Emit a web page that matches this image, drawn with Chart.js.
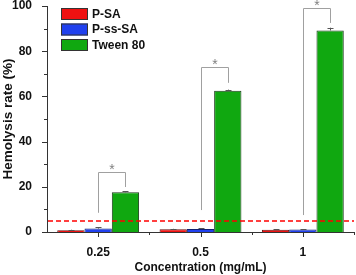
<!DOCTYPE html>
<html>
<head>
<meta charset="utf-8">
<script src="https://cdn.jsdelivr.net/npm/chart.js@4"></script>
<style>
  html, body { margin: 0; padding: 0; background: #fff; }
  #wrap { width: 356px; height: 275px; }
</style>
</head>
<body>
<div id="wrap"><canvas id="myChart" width="356" height="275"></canvas></div>
<script>
// data
var concentrations = ['0.25', '0.5', '1'];
var pSA = [0.8, 1.2, 1.0];
var pSAErr = [0.2, 0.2, 0.2];
var pssSA = [1.5, 1.3, 1.1];
var pssSAErr = [0.7, 0.3, 0.2];
var tween80 = [17.6, 62.5, 89.2];
var tween80Err = [0.4, 0.5, 1.2];
var threshold = 5;
// significance brackets: [left bottom, top, right bottom] in %
var brackets = [[8.5, 26.7, 19.9], [9.7, 73.1, 66.0], [7.5, 99.1, 92.5]];
var yTicks = [0, 20, 40, 60, 80, 100];

var font = 'Arial, "Liberation Sans", sans-serif';

// draws error bars, dashed line, brackets, ticks and legend
var extras = {
  id: 'extras',
  afterDatasetsDraw: function(chart) {
    var ctx = chart.ctx;
    var y = chart.scales.y;
    var x = chart.scales.x;
    var area = chart.chartArea;
    var errs = [pSAErr, pssSAErr, tween80Err];

    // error bars
    ctx.save();
    ctx.strokeStyle = '#555';
    ctx.lineWidth = 1;
    chart.data.datasets.forEach(function(ds, i) {
      var meta = chart.getDatasetMeta(i);
      meta.data.forEach(function(bar, j) {
        var top = y.getPixelForValue(ds.data[j] + errs[i][j]);
        var bx = Math.round(bar.x) + 0.5;
        ctx.beginPath();
        ctx.moveTo(bx, bar.y);
        ctx.lineTo(bx, top);
        ctx.moveTo(bx - 3, Math.round(top) + 0.5);
        ctx.lineTo(bx + 3, Math.round(top) + 0.5);
        ctx.stroke();
      });
    });
    ctx.restore();

    // dashed threshold line
    ctx.save();
    ctx.strokeStyle = 'rgb(255, 0, 0)';
    ctx.lineWidth = 1.5;
    ctx.setLineDash([5, 3]);
    var ty = Math.round(y.getPixelForValue(threshold));
    ctx.beginPath();
    ctx.moveTo(area.left + 1, ty);
    ctx.lineTo(area.right, ty);
    ctx.stroke();
    ctx.restore();

    // significance brackets
    ctx.save();
    ctx.strokeStyle = '#a0a0a0';
    ctx.fillStyle = '#808080';
    ctx.lineWidth = 1;
    ctx.font = '14px ' + font;
    ctx.textAlign = 'center';
    ctx.textBaseline = 'middle';
    var blue = chart.getDatasetMeta(1).data;
    var green = chart.getDatasetMeta(2).data;
    brackets.forEach(function(b, j) {
      var x1 = Math.round(blue[j].x) + 0.5;
      var x2 = Math.round(green[j].x) + 0.5;
      var yt = Math.round(y.getPixelForValue(b[1])) + 0.5;
      ctx.beginPath();
      ctx.moveTo(x1, y.getPixelForValue(b[0]));
      ctx.lineTo(x1, yt);
      ctx.lineTo(x2, yt);
      ctx.lineTo(x2, y.getPixelForValue(b[2]));
      ctx.stroke();
      ctx.fillText('*', (x1 + x2) / 2, yt - 2);
    });
    ctx.restore();

    // axis tick marks (major + minor)
    ctx.save();
    ctx.strokeStyle = '#333';
    ctx.lineWidth = 1;
    for (var v = 0; v <= 100; v += 10) {
      var py = Math.round(y.getPixelForValue(v)) + 0.5;
      var len = (v % 20 === 0) ? 5 : 3;
      ctx.beginPath();
      ctx.moveTo(area.left, py);
      ctx.lineTo(area.left - len, py);
      ctx.stroke();
    }
    var bottom = Math.round(area.bottom);
    for (var k = 0; k < concentrations.length; k++) {
      var cx = Math.round(x.getPixelForValue(k)) + 0.5;
      ctx.beginPath();
      ctx.moveTo(cx, bottom);
      ctx.lineTo(cx, bottom + 5);
      ctx.stroke();
      var ex = Math.round(x.getPixelForValue(k + 0.5)) + 0.5;
      ctx.beginPath();
      ctx.moveTo(ex, bottom);
      ctx.lineTo(ex, bottom + 3);
      ctx.stroke();
    }
    ctx.restore();

    // legend in upper left
    ctx.save();
    ctx.font = 'bold 12px ' + font;
    ctx.textBaseline = 'middle';
    ctx.textAlign = 'left';
    chart.data.datasets.forEach(function(ds, i) {
      var ly = 8 + i * 15.5;
      ctx.fillStyle = ds.backgroundColor;
      ctx.fillRect(61, ly, 27, 12);
      ctx.strokeStyle = '#333';
      ctx.strokeRect(61.5, ly + 0.5, 26, 11);
      ctx.fillStyle = '#111';
      ctx.fillText(ds.label, 92, ly + 6.5);
    });
    ctx.restore();
  }
};

var ctx = document.getElementById('myChart').getContext('2d');
var chart = new Chart(ctx, {
  type: 'bar',
  data: {
    labels: concentrations,
    datasets: [
      { label: 'P-SA', data: pSA, backgroundColor: '#ee1111', borderColor: '#6a1010' },
      { label: 'P-ss-SA', data: pssSA, backgroundColor: '#2040ee', borderColor: '#102070' },
      { label: 'Tween 80', data: tween80, backgroundColor: '#10a810', borderColor: '#1a3a1a' }
    ]
  },
  options: {
    responsive: false,
    animation: false,
    layout: { padding: { top: 6, right: 2, left: 0, bottom: 0 } },
    datasets: {
      bar: {
        categoryPercentage: 0.8,
        barPercentage: 1.0,
        borderWidth: 1,
        borderSkipped: 'bottom'
      }
    },
    plugins: {
      legend: { display: false },
      tooltip: { enabled: false }
    },
    scales: {
      x: {
        offset: true,
        border: { color: '#333', width: 1 },
        grid: { display: false },
        ticks: { color: '#111', font: { family: font, size: 12, weight: 'bold' }, padding: 5 },
        title: {
          display: true,
          text: 'Concentration (mg/mL)',
          color: '#111',
          font: { family: font, size: 12, weight: 'bold' },
          padding: { top: 5, bottom: 0 }
        },
        afterFit: function(scale) { scale.height = 43; scale.paddingRight = 0; }
      },
      y: {
        min: 0,
        max: 100,
        border: { color: '#333', width: 1 },
        grid: { display: false },
        afterBuildTicks: function(scale) {
          scale.ticks = yTicks.map(function(v) { return { value: v }; });
        },
        ticks: { color: '#111', font: { family: font, size: 12, weight: 'bold' }, padding: 7 },
        title: {
          display: true,
          text: 'Hemolysis rate (%)',
          color: '#111',
          font: { family: font, size: 13.5, weight: 'bold' },
          padding: { top: 0, bottom: 3 }
        },
        afterFit: function(scale) {
          scale.width = 47;
          scale.paddingTop = 0;
          scale.paddingBottom = 0;
        }
      }
    }
  },
  plugins: [extras]
});
</script>
</body>
</html>
